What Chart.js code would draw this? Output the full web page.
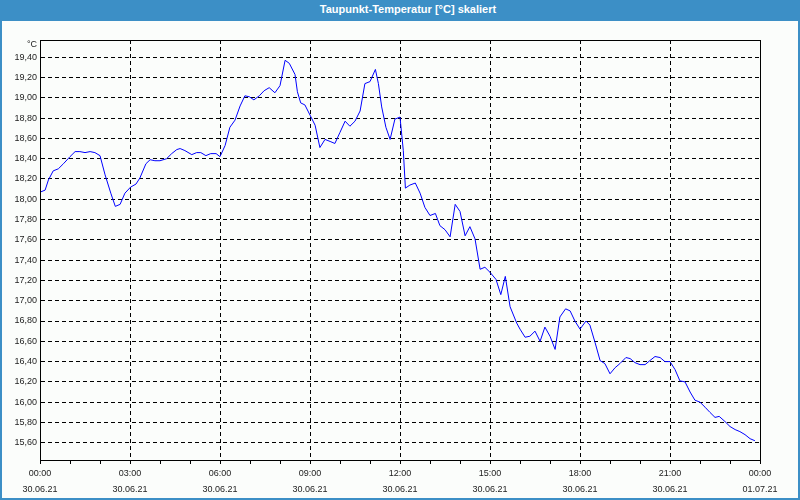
<!DOCTYPE html>
<html>
<head>
<meta charset="utf-8">
<script src="https://cdn.jsdelivr.net/npm/chart.js@4/dist/chart.umd.min.js"></script>
<style>
body { margin: 0; }
#wrap { position: relative; width: 800px; height: 500px; background: #fbfdfb; overflow: hidden; }
#chart { position: absolute; left: 0; top: 0; }
#titlebar { position: absolute; left: 0; top: 0; width: 784px; height: 21px; padding-left: 16px; background: #3c8fc6; color: #fff;
  font: bold 11px "Liberation Sans", Arial, sans-serif; line-height: 19px; text-align: center; }
#edge { position: absolute; left: 0; top: 0; width: 800px; height: 500px; box-sizing: border-box;
  border: 2px solid #3c8fc6; border-top: none; pointer-events: none; }
</style>
</head>
<body>
<div id="wrap">
  <canvas id="chart" width="800" height="500"></canvas>
  <div id="titlebar">Taupunkt-Temperatur [°C] skaliert</div>
  <div id="edge"></div>
</div>
<script>
// time in hours since 30.06.21 00:00
var hours = [0, 0.17, 0.28, 0.44, 0.61, 0.78, 1, 1.17, 1.33, 1.5, 1.67, 1.83, 2, 2.17, 2.36, 2.51, 2.67, 2.83,
  3.02, 3.2, 3.33, 3.53, 3.67, 3.83, 4, 4.22, 4.39, 4.56, 4.67, 4.83, 5.06, 5.22, 5.36, 5.53, 5.69, 5.87,
  6, 6.17, 6.33, 6.5, 6.67, 6.83, 6.98, 7.13, 7.31, 7.47, 7.64, 7.83, 8, 8.17, 8.31, 8.5, 8.58, 8.69, 8.83,
  9, 9.17, 9.33, 9.5, 9.67, 9.83, 10, 10.17, 10.33, 10.5, 10.67, 10.83, 11, 11.18, 11.28, 11.39, 11.53, 11.67, 11.83,
  12, 12.11, 12.18, 12.33, 12.51, 12.67, 12.83, 13, 13.18, 13.33, 13.5, 13.67, 13.84, 14, 14.17, 14.33, 14.5, 14.67, 14.83,
  15, 15.2, 15.36, 15.51, 15.67, 15.89, 16, 16.17, 16.33, 16.5, 16.67, 16.83, 17, 17.17, 17.33, 17.52, 17.67, 17.83,
  18, 18.2, 18.33, 18.5, 18.67, 18.83, 19, 19.17, 19.33, 19.53, 19.67, 19.83, 20, 20.17, 20.33, 20.5, 20.67, 20.83,
  21, 21.17, 21.33, 21.5, 21.67, 21.83, 22, 22.17, 22.33, 22.5, 22.64, 22.83, 23, 23.17, 23.33, 23.5, 23.67, 23.83];
var dewPoint = [18.07, 18.09, 18.19, 18.28, 18.30, 18.35, 18.42, 18.47, 18.47, 18.46, 18.47, 18.46, 18.43, 18.24, 18.06, 17.93, 17.95, 18.06,
  18.12, 18.15, 18.21, 18.35, 18.39, 18.38, 18.38, 18.40, 18.45, 18.49, 18.50, 18.48, 18.44, 18.46, 18.46, 18.43, 18.45, 18.45,
  18.42, 18.53, 18.71, 18.78, 18.92, 19.02, 19.01, 18.98, 19.02, 19.07, 19.10, 19.05, 19.12, 19.37, 19.34, 19.23, 19.06, 18.95, 18.93,
  18.83, 18.73, 18.51, 18.59, 18.57, 18.55, 18.66, 18.77, 18.72, 18.77, 18.87, 19.14, 19.16, 19.28, 19.14, 18.91, 18.71, 18.59, 18.79,
  18.81, 18.48, 18.11, 18.14, 18.16, 18.06, 17.92, 17.84, 17.86, 17.74, 17.70, 17.63, 17.95, 17.88, 17.64, 17.73, 17.61, 17.31, 17.33,
  17.28, 17.21, 17.06, 17.24, 16.94, 16.78, 16.72, 16.64, 16.65, 16.70, 16.60, 16.74, 16.65, 16.52, 16.84, 16.92, 16.90, 16.80,
  16.72, 16.80, 16.76, 16.59, 16.41, 16.38, 16.28, 16.34, 16.38, 16.44, 16.43, 16.39, 16.37, 16.37, 16.41, 16.45, 16.44, 16.40,
  16.40, 16.32, 16.21, 16.20, 16.10, 16.02, 16.00, 15.95, 15.90, 15.85, 15.86, 15.81, 15.76, 15.73, 15.71, 15.68, 15.64, 15.62];

var yTicks = [15.6, 15.8, 16.0, 16.2, 16.4, 16.6, 16.8, 17.0, 17.2, 17.4, 17.6, 17.8, 18.0, 18.2, 18.4, 18.6, 18.8, 19.0, 19.2, 19.4];
var yMin = 15.43;
var yMax = 19.57;
var timeLabels = ['00:00', '03:00', '06:00', '09:00', '12:00', '15:00', '18:00', '21:00', '00:00'];
var dateLabels = ['30.06.21', '30.06.21', '30.06.21', '30.06.21', '30.06.21', '30.06.21', '30.06.21', '30.06.21', '01.07.21'];
var unitLabel = '°C';

var points = [];
for (var i = 0; i < hours.length; i++) {
  points.push({x: hours[i], y: dewPoint[i]});
}

var labelFont = {family: 'Liberation Sans', size: 9};

// frame around plot area and unit label above the y axis
var framePlugin = {
  id: 'frame',
  afterDraw: function(chart) {
    var ctx = chart.ctx;
    var a = chart.chartArea;
    ctx.save();
    ctx.strokeStyle = '#000';
    ctx.lineWidth = 1;
    ctx.strokeRect(Math.round(a.left) + 0.5, Math.round(a.top) + 0.5, Math.round(a.right - a.left), Math.round(a.bottom - a.top));
    ctx.fillStyle = '#222';
    ctx.font = '9px "Liberation Sans"';
    ctx.textAlign = 'right';
    ctx.textBaseline = 'middle';
    ctx.fillText(unitLabel, a.left - 3, a.top + 5);
    ctx.restore();
  }
};

var ctx = document.getElementById('chart').getContext('2d');
var myChart = new Chart(ctx, {
  type: 'line',
  data: {
    datasets: [{
      label: 'Taupunkt',
      data: points,
      borderColor: '#0000ff',
      borderWidth: 1,
      pointRadius: 0,
      tension: 0,
      fill: false
    }]
  },
  options: {
    responsive: false,
    animation: false,
    layout: {padding: {left: 0, top: 40, right: 40, bottom: 0}},
    plugins: {
      legend: {display: false},
      tooltip: {enabled: false},
      title: {display: false}
    },
    scales: {
      x: {
        type: 'linear',
        min: 0,
        max: 24,
        afterFit: function(s) { s.height = 40; },
        ticks: {
          stepSize: 1,
          autoSkip: false,
          maxRotation: 0,
          padding: 2,
          color: '#222',
          font: {family: 'Liberation Sans', size: 9, lineHeight: 1.75},
          callback: function(v) {
            if (v % 3 != 0) return '';
            return [timeLabels[v / 3], dateLabels[v / 3]];
          }
        },
        grid: {
          color: function(c) {
            var v = c.tick ? c.tick.value : 0;
            return (v % 3 == 0 && v > 0 && v < 24) ? '#000' : 'rgba(0,0,0,0)';
          },
          lineWidth: 1,
          tickColor: '#000',
          tickLength: 4
        },
        border: {color: '#000', dash: [4, 3]}
      },
      y: {
        min: yMin,
        max: yMax,
        afterFit: function(s) { s.width = 40; },
        afterBuildTicks: function(s) {
          s.ticks = yTicks.map(function(v) { return {value: v}; });
        },
        ticks: {
          padding: 3,
          color: '#222',
          font: labelFont,
          callback: function(v) { return v.toFixed(2).replace('.', ','); }
        },
        grid: {
          color: '#000',
          lineWidth: 1,
          drawTicks: false
        },
        border: {color: '#000', dash: [4, 3]}
      }
    }
  },
  plugins: [framePlugin]
});
</script>
</body>
</html>
